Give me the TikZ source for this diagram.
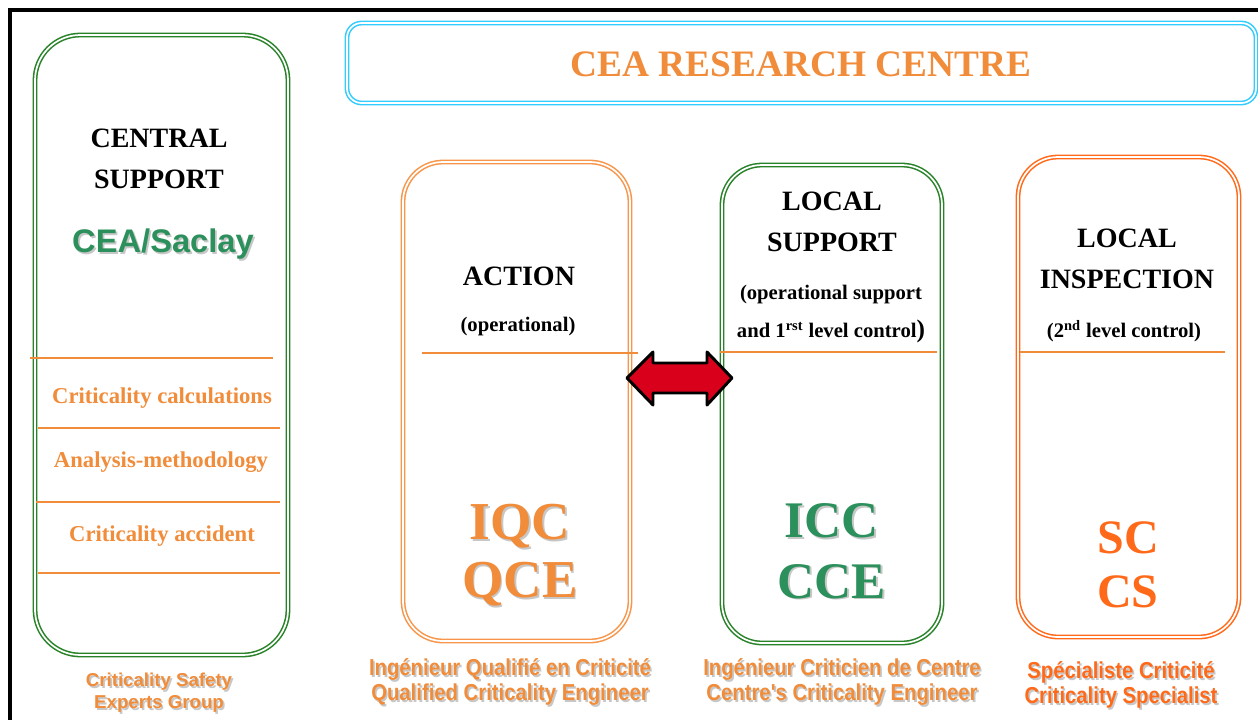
\documentclass[tikz,border=0pt]{standalone}
\usepackage{fontspec}
\setmainfont{Liberation Serif}
\newfontfamily\arial{Liberation Sans}
\newfontfamily\arialn[FakeStretch=0.88]{Liberation Sans}
\definecolor{orT}{RGB}{240,140,58}
\definecolor{orB}{RGB}{247,150,74}
\definecolor{orR}{RGB}{255,106,26}
\definecolor{grB}{RGB}{40,130,40}
\definecolor{grT}{RGB}{44,144,92}
\definecolor{cyB}{RGB}{51,204,255}
\definecolor{arR}{RGB}{217,0,27}
\newcommand\shd[2]{\makebox[0pt][l]{\kern1.3pt\raisebox{-1.3pt}{\textcolor{black!22}{#2}}}\textcolor{#1}{#2}}
\tikzset{
  dbox/.style={draw=#1, double=white, double distance=1.3pt, line width=1.15pt, rounded corners=30pt, inner sep=0pt},
  title/.style={font=\fontsize{21}{31}\selectfont\bfseries, align=center, text=black, inner sep=0pt},
  sub/.style={font=\fontsize{15.5}{28}\selectfont\bfseries, align=center, text=black, inner sep=0pt},
  item/.style={font=\fontsize{17}{20}\selectfont\bfseries, text=orT, inner sep=0pt},
  big/.style={font=\fontsize{40}{43.5}\selectfont\bfseries, align=center, inner sep=0pt},
  lbl/.style={font=\arialn\fontsize{17.3}{18.75}\selectfont\bfseries, align=center, inner sep=0pt},
  sep/.style={draw=orT, line width=1.1pt},
}
\begin{document}
\begin{tikzpicture}[x=0.75pt,y=-0.75pt]
\useasboundingbox (0,0) rectangle (1258,719);
\fill[white] (0,0) rectangle (1258,719);
\clip (0,0) rectangle (1258,719);
\draw[line width=2.4pt] (10,10) rectangle (1290,750);

% top banner
\node[dbox=cyB, rounded corners=11pt, minimum width=681.75pt, minimum height=60pt] (top) at (801.5,63) {};
\node[font=\fontsize{28}{30}\selectfont\bfseries, text=orT] (cea) at (801,64) {CEA RESEARCH CENTRE};

% left column
\node[dbox=grB, rounded corners=34pt, minimum width=189.75pt, minimum height=465pt] (central) at (161.5,345) {};
\node[title] (cs) at (159,159) {CENTRAL\\SUPPORT};
\node[font=\arial\fontsize{24.5}{26}\selectfont\bfseries, inner sep=0pt] (saclay) at (163,245) {\shd{grT}{CEA/Saclay}};
\draw[sep] (30,358) -- (273,358);
\node[item] (calc) at (162,398) {Criticality calculations};
\draw[sep] (38,428) -- (280,428);
\node[item] (anal) at (161,462) {Analysis-methodology};
\draw[sep] (36,502) -- (280,502);
\node[item] (acc) at (162,536) {Criticality accident};
\draw[sep] (38,573) -- (280,573);
\node[font=\arial\fontsize{14}{16.5}\selectfont\bfseries, align=center, inner sep=0pt] (cseg) at (159,694) {\shd{orT}{Criticality Safety}\\\shd{orT}{Experts Group}};

% action
\node[dbox=orB, minimum width=170.25pt, minimum height=359.25pt] (act) at (516.5,401.5) {};
\node[title] (actt) at (519,276) {ACTION};
\node[sub] (acts) at (518,327) {(operational)};
\draw[sep] (422,353) -- (638,353);
\node[big] (iqc) at (520,556) {\shd{orT}{IQC}\\\shd{orT}{QCE}};
\node[lbl] (iqcl) at (510,683) {\shd{orT}{Ingénieur Qualifié en Criticité}\\\shd{orT}{Qualified Criticality Engineer}};

% local support
\node[dbox=grB, minimum width=165pt, minimum height=358.5pt] (ls) at (832,404) {};
\node[title] (lst) at (832,222) {LOCAL\\SUPPORT};
\node[sub] (lss) at (831,314) {(operational support\\and 1\textsuperscript{rst} level control{\fontsize{19}{19}\selectfont)}};
\draw[sep] (720,352) -- (937,352);
\node[big, font=\fontsize{38.5}{45.5}\selectfont\bfseries] (icc) at (832,552) {\shd{grT}{ICC}\\\shd{grT}{CCE}};
\node[lbl] (iccl) at (842,683) {\shd{orT}{Ingénieur Criticien de Centre}\\\shd{orT}{Centre's Criticality Engineer}};

% local inspection
\node[dbox=orR, minimum width=165.75pt, minimum height=360pt] (li) at (1128.5,397) {};
\node[title] (lit) at (1127,259) {LOCAL\\INSPECTION};
\node[sub] (lis) at (1124,331) {(2\textsuperscript{nd} level control)};
\draw[sep] (1020,352) -- (1225,352);
\node[big, font=\fontsize{36}{40.5}\selectfont\bfseries, text=orR] (sc) at (1128,565) {SC\\CS};
\node[lbl] (scl) at (1121,686) {\shd{orR}{Spécialiste Criticité}\\\shd{orR}{Criticality Specialist}};

% double arrow between ACTION and LOCAL SUPPORT
\coordinate (aL) at (627,378);
\coordinate (aR) at (732,378);
\draw[fill=arR, draw=black, line width=2.2pt, line join=round]
  (aL) -- ++(26,-26) -- ++(0,11) -- ++(54,0) -- ++(0,-11) -- (aR)
  -- ++(-25,27) -- ++(0,-12) -- ++(-54,0) -- ++(0,12) -- cycle;
\end{tikzpicture}
\end{document}
